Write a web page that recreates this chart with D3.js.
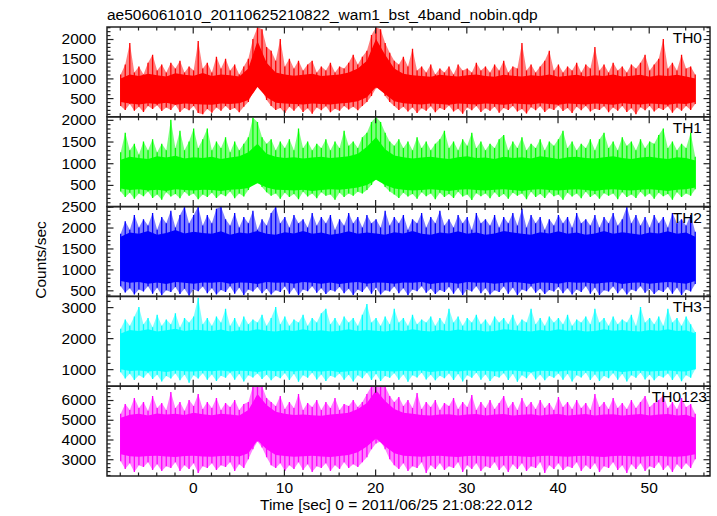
<!DOCTYPE html>
<html><head><meta charset="utf-8">
<script src="https://cdn.jsdelivr.net/npm/d3@7"></script>
<style>body{margin:0;background:#fff} text{font-family:"Liberation Sans",Arial,Helvetica,sans-serif}</style>
</head><body><svg id="c" width="717" height="516"></svg>
<script>
// ---- data: envelope of the light curves ----
// hi/lo: upper and lower extent of the counts every 0.5 s starting at t=-7.9 s
// core*: extent of the dense (solid) band every 1 s starting at t=-7.9 s
const th0Hi=[1100,1350,1900,1150,1300,1100,1400,1600,1200,1350,
1150,1400,1250,1450,1150,1300,1200,1950,1250,1400,
1150,1550,1250,1500,1200,1350,1100,1300,1500,2000,
2300,2250,1800,1700,1450,2000,1300,1500,1250,1450,
1200,1350,1450,1150,1300,1200,1400,1150,1300,1250,
1400,1600,1350,1550,1700,2100,2300,2250,1900,1650,
1450,1350,1550,1300,1750,1200,1300,1150,1350,1100,
1250,1150,1300,1100,1350,1200,1250,1150,1400,1200,
1300,1150,1350,1200,1450,1150,1300,1250,1900,1200,
1350,1150,1300,1450,1700,1200,1350,1150,1300,1200,
1400,1150,1350,1250,1800,1200,1350,1150,1400,1200,
1300,1150,1350,1250,1400,1600,1200,1350,1500,2000,
1250,1400,1200,1600,1250,1300,1100];
const th0Lo=[300,200,350,180,280,150,300,220,320,170,
260,200,330,150,250,190,300,120,90,220,
130,260,180,300,200,250,140,280,400,650,
800,700,450,300,200,250,120,280,180,300,
150,240,100,260,190,290,140,230,180,300,
210,280,190,300,400,550,750,800,550,400,
300,200,280,160,260,120,240,180,290,140,
250,200,310,160,230,100,260,190,300,150,
240,180,280,130,250,200,300,160,220,110,
270,190,290,150,240,200,310,170,250,120,
280,190,300,160,230,200,290,140,260,180,
300,150,240,90,270,190,300,160,250,200,
290,130,260,180,300,200,350];
const th0CoreHi=[1000,1100,1060,1120,1080,1050,1130,1090,1070,1140,
1060,1100,1080,1050,1250,1950,1400,1150,1100,1070,
1090,1120,1060,1080,1100,1150,1250,1450,2000,1600,
1250,1120,1080,1060,1040,1090,1070,1050,1080,1100,
1060,1040,1090,1070,1050,1080,1060,1100,1040,1070,
1090,1050,1080,1060,1100,1050,1070,1090,1040,1080,
1060,1090,1050,1000];
const th0CoreLo=[400,360,340,370,350,380,330,360,350,340,
330,360,350,370,450,780,520,380,360,350,
340,360,350,340,360,380,420,520,780,600,
420,370,350,340,360,350,330,360,350,340,
360,350,330,360,350,340,370,350,330,360,
350,340,360,350,330,370,350,340,360,350,
330,360,350,400];

const th1Hi=[1250,1700,1300,1450,1200,1500,1300,1550,1250,1450,
1300,2000,1350,1750,1300,1500,1800,1350,1550,1800,
1300,1500,1350,1600,1250,1500,1300,1450,1600,2050,
1950,1600,1450,1550,1300,1500,1350,1550,1300,1800,
1350,1500,1300,1450,1350,1550,1300,1500,1350,1750,
1400,1500,1350,1600,1700,1950,2070,1950,1700,1500,
1400,1550,1350,1500,1300,1600,1350,1500,1300,1450,
1550,1750,1350,1500,1300,1550,1400,1700,1350,1500,
1300,1450,1350,1550,1650,1300,1500,1350,1600,1300,
1450,1350,1550,1300,1500,1400,1550,1750,1350,1500,
1300,1450,1350,1550,1300,1550,1700,1350,1500,1300,
1600,1400,1500,1300,1550,1350,1500,1450,1650,1800,
1350,1500,1300,1450,1350,1700,1150];
const th1Lo=[350,220,320,180,300,240,350,200,280,160,
330,230,290,190,340,250,300,170,280,220,
320,200,290,240,350,190,300,230,380,550,
600,450,330,250,300,180,320,220,290,170,
340,230,300,190,330,250,280,160,320,220,
300,250,340,300,380,500,650,600,450,350,
280,200,320,230,290,180,330,240,300,170,
320,220,290,200,340,230,280,150,310,240,
300,190,330,220,290,180,320,250,300,170,
340,220,290,200,330,240,280,160,320,230,
300,190,340,220,290,180,310,250,300,170,
330,220,280,200,340,230,300,180,320,240,
290,160,330,220,300,250,400];
const th1CoreHi=[1080,1150,1120,1100,1160,1130,1170,1110,1140,1120,
1150,1100,1130,1160,1250,1450,1220,1150,1120,1140,
1110,1130,1150,1120,1140,1160,1220,1380,1600,1320,
1180,1140,1110,1130,1150,1120,1100,1140,1160,1120,
1130,1100,1150,1120,1140,1110,1160,1130,1100,1140,
1150,1120,1110,1140,1160,1120,1100,1130,1150,1120,
1100,1140,1120,1060];
const th1CoreLo=[420,380,400,370,390,360,400,380,370,390,
380,360,390,400,430,540,440,390,380,370,
390,360,380,400,390,410,440,500,620,500,
420,390,370,380,400,380,360,390,400,380,
370,390,400,380,360,390,400,380,370,390,
400,380,360,390,400,380,370,390,400,380,
360,390,400,440];

const th2Hi=[1850,2150,1950,2300,2000,2200,2050,2350,1950,2250,
2100,2400,2000,2300,2500,2100,2300,2500,2050,2300,
2100,2450,2500,2200,2050,2350,2000,2250,2100,2400,
1950,2200,2050,2350,2500,2100,2250,2000,2300,2100,
2200,2000,2350,2050,2250,2100,2300,1950,2200,2050,
2350,2100,2250,2000,2300,2100,2200,2000,2400,2050,
2250,2100,2300,1950,2200,2100,2350,2000,2250,2100,
2400,2050,2200,2000,2300,2100,2250,1950,2350,2100,
2200,2050,2300,2000,2250,2100,2350,2050,2450,2000,
2300,2100,2250,1950,2200,2050,2300,2100,2250,2000,
2350,2100,2200,2050,2300,2000,2250,2100,2350,2050,
2200,2500,2100,2300,2050,2250,2000,2300,2100,2250,
2000,2350,2100,2200,2050,2300,1900];
const th2Lo=[600,450,550,400,520,470,600,420,560,380,
500,460,580,410,540,370,520,480,590,430,
550,400,510,460,600,420,560,390,520,470,
580,430,540,400,500,460,590,420,560,380,
520,480,600,440,550,410,510,470,580,430,
540,390,520,460,600,420,560,400,500,470,
590,430,550,380,520,480,600,440,540,410,
510,460,580,420,560,390,520,470,600,430,
550,400,500,460,590,420,560,380,520,480,
600,440,540,410,510,470,580,430,550,400,
520,460,600,420,560,390,500,470,590,430,
550,400,520,480,600,440,540,410,510,460,
580,420,560,390,520,470,650];
const th2CoreHi=[1780,1880,1850,1920,1830,1870,1940,1860,1900,1870,
1850,1910,1830,1880,1860,1920,1850,1830,1890,1860,
1920,1850,1880,1830,1860,1910,1850,1880,1860,1830,
1890,1860,1920,1850,1830,1880,1860,1910,1850,1880,
1830,1860,1920,1880,1850,1830,1890,1860,1910,1850,
1880,1830,1860,1920,1850,1890,1860,1830,1880,1860,
1910,1850,1880,1780];
const th2CoreLo=[720,680,700,660,690,650,700,680,660,690,
680,700,660,690,680,650,700,680,690,660,
700,680,660,690,650,680,700,660,690,680,
660,690,680,700,650,680,690,660,700,680,
690,660,680,700,680,650,690,680,660,700,
680,690,660,680,700,650,680,690,660,680,
700,680,660,720];

const th3Hi=[2300,2600,2400,2700,3000,2450,2650,2350,2750,2400,
2600,2450,2800,2350,2650,2500,2700,3300,2450,2650,
2400,2700,2500,2950,2400,2650,2350,2700,2450,2600,
2500,2750,2400,2650,3000,2450,2700,2400,2600,2500,
2750,2400,2650,2500,2800,2950,2450,2650,2400,2700,
2500,2650,2400,2750,3100,2500,2650,2400,2700,2450,
2950,2500,2650,2400,2750,2450,2600,2500,2700,2400,
2650,2450,2950,2500,2700,2400,2650,2500,2750,2450,
2600,2400,2700,2500,2650,2450,2750,2400,2600,2500,
2950,2450,2650,2400,2700,2500,2650,2450,2750,2400,
2600,2500,2700,2450,2950,2500,2650,2400,2700,2450,
2600,2500,2750,2400,3000,2500,2650,2450,2700,2400,
2950,2500,2650,2400,2700,2450,2200];
const th3Lo=[900,700,850,650,800,720,880,680,820,600,
780,700,860,640,820,560,800,700,870,660,
830,620,790,720,880,660,840,600,800,730,
860,680,820,640,780,710,870,650,840,590,
800,720,880,670,830,620,790,730,860,660,
820,600,800,710,880,650,840,620,780,720,
870,660,830,590,800,730,880,670,820,640,
790,710,860,650,840,600,800,720,880,660,
830,620,780,730,870,650,840,590,800,710,
880,670,820,640,790,720,860,660,840,600,
800,730,880,650,830,620,780,710,870,660,
840,600,800,720,880,670,820,640,790,730,
860,650,840,610,800,720,1000];
const th3CoreHi=[2150,2260,2230,2290,2210,2250,2300,2230,2270,2250,
2230,2280,2210,2250,2230,2290,2240,2210,2260,2230,
2290,2230,2250,2210,2240,2290,2230,2260,2240,2210,
2260,2230,2290,2240,2210,2260,2230,2280,2240,2260,
2210,2230,2290,2260,2240,2210,2260,2230,2290,2240,
2260,2210,2230,2290,2240,2260,2230,2210,2260,2240,
2290,2230,2250,2150];
const th3CoreLo=[1000,940,960,920,950,910,960,930,920,950,
930,960,920,950,940,910,960,930,950,920,
960,940,920,950,910,930,960,920,950,940,
920,950,930,960,910,940,950,920,960,940,
950,920,940,960,930,910,950,940,920,960,
940,950,920,930,960,910,940,950,920,940,
960,930,920,1000];

const thAllHi=[5300,5800,5500,6100,5600,5900,5450,6200,5600,5850,
5500,6400,5600,5900,5450,6000,5700,6300,5550,5900,
5600,6100,5500,5850,5650,6000,5500,5800,5900,6700,
6700,6700,6100,5900,5700,6200,5550,5900,5600,6300,
5500,5850,5650,6000,5500,5900,5600,6100,5500,5800,
5700,6000,5650,5900,6300,6700,6700,6700,6700,6200,
5900,6150,5700,6000,5600,6350,5550,5900,5650,6000,
5500,5850,5700,6100,5550,5900,5650,6250,5500,5900,
5600,6000,5550,5850,6200,5600,5900,5500,6100,5650,
5900,5550,6000,5600,5850,5500,6150,5650,5900,5550,
6000,5600,5850,5500,6300,5650,5900,5550,6100,5600,
5850,5550,6000,5600,5900,6200,5650,5850,6000,6250,
5600,5900,5550,6100,5650,5800,5300];
const thAllLo=[2900,2500,2800,2350,2700,2600,2850,2450,2750,2400,
2650,2550,2850,2400,2700,2500,2800,2300,2650,2550,
2800,2450,2700,2600,2850,2400,2750,2550,3000,3500,
3900,3600,3100,2700,2550,2800,2400,2700,2500,2850,
2450,2750,2350,2650,2550,2800,2400,2700,2500,2850,
2550,2750,2600,2850,3100,3500,3800,3900,3500,3000,
2700,2500,2800,2400,2650,2550,2850,2300,2700,2500,
2800,2450,2650,2550,2850,2350,2700,2500,2800,2400,
2650,2550,2850,2450,2700,2350,2750,2500,2800,2400,
2650,2550,2850,2300,2700,2500,2800,2450,2650,2550,
2850,2400,2700,2500,2800,2350,2650,2550,2850,2450,
2700,2300,2750,2500,2800,2400,2650,2550,2850,2450,
2700,2350,2750,2500,2800,2550,3000];
const thAllCoreHi=[5100,5250,5300,5220,5320,5260,5300,5240,5350,5280,
5230,5300,5260,5220,5500,6300,5750,5400,5300,5240,
5270,5230,5200,5260,5300,5350,5550,5850,6500,5950,
5550,5350,5300,5240,5210,5260,5280,5220,5260,5290,
5220,5260,5290,5210,5250,5280,5220,5260,5290,5220,
5250,5290,5220,5260,5280,5210,5250,5290,5220,5260,
5290,5220,5250,5100];
const thAllCoreLo=[3250,3150,3120,3160,3180,3140,3110,3160,3180,3140,
3120,3160,3180,3140,3300,3950,3500,3220,3160,3120,
3150,3180,3140,3110,3160,3220,3350,3650,4050,3650,
3300,3180,3150,3120,3160,3180,3140,3110,3160,3180,
3150,3120,3160,3180,3140,3110,3160,3180,3150,3120,
3160,3180,3140,3110,3160,3180,3150,3120,3160,3180,
3140,3120,3160,3250];

const panelNames=["TH0","TH1","TH2","TH3","TH0123"];
const yDomains=[[25,2305],[0,2070],[355,2500],[450,3345],[2150,6700]];
const yMajorTicks=[[500,1000,1500,2000],[500,1000,1500,2000],[500,1000,1500,2000,2500],[1000,2000,3000],[3000,4000,5000,6000]];
const yMinorSteps=[100,100,100,200,200];
const xMajorTicks=[0,10,20,30,40,50];
const xMinorStep=2;
const titleText="ae506061010_20110625210822_wam1_bst_4band_nobin.qdp";
const xTitle="Time [sec] 0 = 2011/06/25 21:08:22.012";
const yTitle="Counts/sec";
const seriesHi=[th0Hi,th1Hi,th2Hi,th3Hi,thAllHi];
const seriesLo=[th0Lo,th1Lo,th2Lo,th3Lo,thAllLo];
const seriesCoreHi=[th0CoreHi,th1CoreHi,th2CoreHi,th3CoreHi,thAllCoreHi];
const seriesCoreLo=[th0CoreLo,th1CoreLo,th2CoreLo,th3CoreLo,thAllCoreLo];

// ---- layout / style ----
const colors=["#ff0000","#00ff00","#0000ff","#00ffff","#ff00ff"];
const labelRight=[702,702,702,702,707];
const L=107,R=710,T=27,B=476;
const PH=(B-T)/5;
const FS="15.5px";
const svg=d3.select("#c");
const x=d3.scaleLinear().domain([-9.4,56.72]).range([L,R]);
const tGrid=d3.range(127).map(i=>-7.9+0.5*i);
const cGrid=d3.range(64).map(k=>-7.9+k);

svg.append("defs");
panelNames.forEach((name,p)=>{
  const top=T+p*PH, bot=top+PH;
  const y=d3.scaleLinear().domain(yDomains[p]).range([bot,top]);
  const g=svg.append("g");
  const cid="clip"+p;
  svg.select("defs").append("clipPath").attr("id",cid)
    .append("rect").attr("x",L).attr("y",top).attr("width",R-L).attr("height",PH);
  const dg=g.append("g").attr("clip-path",`url(#${cid})`);
  const hi=seriesHi[p], lo=seriesLo[p];
  const pts=tGrid.map((t,i)=>({t,hi:hi[i],lo:lo[i]}));
  const env=d3.area().x(d=>x(d.t)).y0(d=>y(d.lo)).y1(d=>y(d.hi));
  dg.append("path").datum(pts).attr("d",env).attr("fill",colors[p]).attr("fill-opacity",0.5);
  const cpts=cGrid.map((t,k)=>({t,hi:seriesCoreHi[p][k],lo:seriesCoreLo[p][k]}));
  dg.append("path").datum(cpts).attr("d",env).attr("fill",colors[p]);
  dg.selectAll("line.s").data(pts).join("line")
    .attr("x1",d=>x(d.t)).attr("x2",d=>x(d.t))
    .attr("y1",d=>y(d.lo)).attr("y2",d=>y(d.hi))
    .attr("stroke",colors[p]).attr("stroke-width",1.3);

  // axes
  const [d0,d1]=yDomains[p];
  const st=yMinorSteps[p];
  const minor=d3.range(Math.ceil(d0/st)*st,d1+1e-9,st).filter(v=>!yMajorTicks[p].includes(v));
  const styleAx=sel=>{sel.select(".domain").remove();sel.selectAll(".tick line").attr("stroke","#222").attr("stroke-width",1.2);};
  g.append("g").attr("transform",`translate(${L},0)`)
    .call(d3.axisLeft(y).tickValues(yMajorTicks[p]).tickSize(-6.5).tickPadding(11).tickFormat(d3.format("d")))
    .call(styleAx).call(s=>s.selectAll("text").attr("font-size",FS).attr("font-family",null).attr("fill","#000"));
  g.append("g").attr("transform",`translate(${L},0)`)
    .call(d3.axisLeft(y).tickValues(minor).tickSize(-3.5).tickFormat("")).call(styleAx);
  g.append("g").attr("transform",`translate(${R},0)`)
    .call(d3.axisRight(y).tickValues(yMajorTicks[p]).tickSize(-6.5).tickFormat("")).call(styleAx);
  g.append("g").attr("transform",`translate(${R},0)`)
    .call(d3.axisRight(y).tickValues(minor).tickSize(-3.5).tickFormat("")).call(styleAx);
  const xMinor=d3.range(-8,57,xMinorStep).filter(v=>v%10!==0);
  g.append("g").attr("transform",`translate(0,${top})`)
    .call(d3.axisTop(x).tickValues(xMajorTicks).tickSize(-6.5).tickFormat("")).call(styleAx);
  g.append("g").attr("transform",`translate(0,${top})`)
    .call(d3.axisTop(x).tickValues(xMinor).tickSize(-3.5).tickFormat("")).call(styleAx);
  const bx=g.append("g").attr("transform",`translate(0,${bot})`)
    .call(d3.axisBottom(x).tickValues(xMajorTicks).tickSize(-6.5).tickPadding(6).tickFormat(p===4?d3.format("d"):""))
    .call(styleAx);
  bx.selectAll("text").attr("font-size",FS).attr("font-family",null).attr("fill","#000");
  g.append("g").attr("transform",`translate(0,${bot})`)
    .call(d3.axisBottom(x).tickValues(xMinor).tickSize(-3.5).tickFormat("")).call(styleAx);
  g.append("rect").attr("x",L).attr("y",top).attr("width",R-L).attr("height",PH)
    .attr("fill","none").attr("stroke","#222").attr("stroke-width",1.5);
  g.append("text").attr("x",labelRight[p]).attr("y",top+16).attr("text-anchor","end")
    .attr("font-size",FS).text(name);
});
svg.append("text").attr("x",107).attr("y",20).attr("font-size",FS).text(titleText);
svg.append("text").attr("x",260).attr("y",510).attr("font-size",FS).text(xTitle);
svg.append("text").attr("transform","translate(46,260) rotate(-90)").attr("text-anchor","middle")
  .attr("font-size",FS).text(yTitle);
</script></body></html>
